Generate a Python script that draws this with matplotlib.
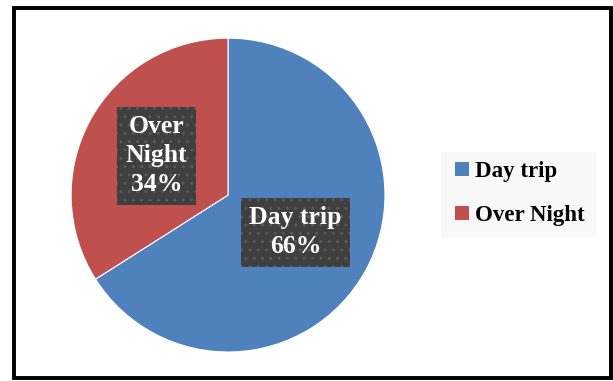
import matplotlib
matplotlib.use("Agg")
import matplotlib.pyplot as plt
from matplotlib.patches import Patch, Rectangle
import numpy as np

categories = ["Day trip", "Over Night"]
shares = [66, 34]
label_texts = ["Day trip\n66%", "Over\nNight\n34%"]
colors = ["#4F81BD", "#C0504D"]

plt.rcParams["font.family"] = ["Liberation Serif", "DejaVu Serif"]

W, H = 613, 381
fig = plt.figure(figsize=(W / 100, H / 100), dpi=100)
fig.patch.set_facecolor("white")

ax = fig.add_axes([0.116, 0.076, 0.512, 0.824])
wedges, _ = ax.pie(shares, colors=colors, startangle=90, counterclock=False,
                   wedgeprops=dict(edgecolor="white", linewidth=0.8))
ax.set_xlim(-1, 1)
ax.set_ylim(-1, 1)
ax.set_aspect("equal")
ax.axis("off")

# data labels placed along each wedge's bisector
dists = [0.49, 0.52]
for w, txt, d in zip(wedges, label_texts, dists):
    ang = np.deg2rad((w.theta1 + w.theta2) / 2)
    ax.text(d * np.cos(ang), d * np.sin(ang), txt, ha="center", va="center",
            color="white", fontsize=18.5, fontweight="bold", linespacing=1.33,
            bbox=dict(boxstyle="square,pad=0.33", facecolor="#3f3f3f",
                      edgecolor="#5a5a5a", linewidth=0, hatch=".."))

# legend panel background
fig.patches.append(Rectangle((441 / W, 1 - 237 / H), (597 - 441) / W, (237 - 152) / H,
                             transform=fig.transFigure, facecolor="#F8F8F8",
                             edgecolor="none", zorder=0))

handles = [Patch(facecolor=c, edgecolor="none") for c in colors]
leg = fig.legend(handles, categories, loc="center", bbox_to_anchor=(0.848, 0.492),
                 prop=dict(family="Liberation Serif", weight="bold", size=16.5),
                 frameon=False, handlelength=0.6, handleheight=0.6,
                 handletextpad=0.25, labelspacing=1.0, borderpad=0.5,
                 borderaxespad=0)

# outer frame
fig.patches.append(Rectangle((13.5 / W, 1 - 377.5 / H), (610.5 - 13.5) / W,
                             (377.5 - 7.5) / H, transform=fig.transFigure,
                             fill=False, edgecolor="black", linewidth=2.8))

fig.savefig("out.png", dpi=100)
